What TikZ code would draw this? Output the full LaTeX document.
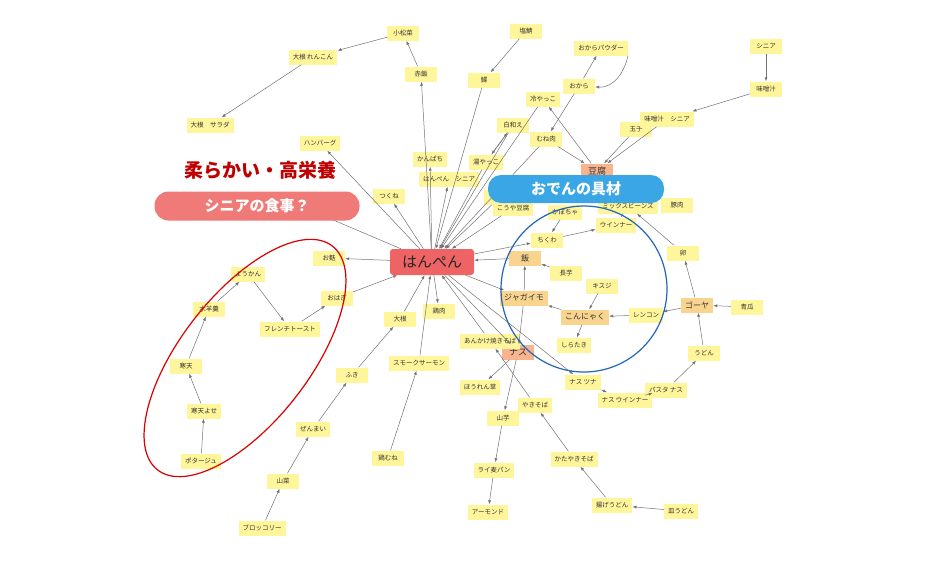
\documentclass[tikz,border=0pt]{standalone}
\usepackage{fontspec}
\setmainfont{Noto Sans CJK JP}
\usetikzlibrary{arrows.meta}
\definecolor{ny}{HTML}{FFF59A}
\definecolor{nor}{HTML}{F7B48E}
\definecolor{nlo}{HTML}{F9D48E}
\definecolor{nred}{HTML}{EE6464}
\definecolor{pill}{HTML}{F07A78}
\definecolor{blu}{HTML}{3AA6E6}
\definecolor{cblu}{HTML}{2166B8}
\tikzset{
 n/.style={fill=ny,font=\fontsize{6.5}{7}\selectfont,text=black!80,inner xsep=4pt,minimum height=15pt,minimum width=32pt},
 o/.style={n,fill=nor,font=\fontsize{9}{10}\selectfont},
 lo/.style={n,fill=nlo,font=\fontsize{8}{9}\selectfont},
 e/.style={draw=black!55,line width=0.5pt,-{Latex[length=4pt,width=3pt]}},
}
\begin{document}
\begin{tikzpicture}[x=1pt,y=-1pt]
\useasboundingbox (0,0) rectangle (928,560);
\fill[white] (0,0) rectangle (928,560);
% hidden nodes behind labels
\node[n] (hid1) at (500,197) {};
\node[n] (kouya) at (513,208) {こうや豆腐};
\node[n] (kabo) at (565,212) {かぼちゃ};
\node[n] (mix) at (628,206) {ミックスビーンズ};
\node[n] (buta) at (677,205) {豚肉};
\node[n] (hid2) at (305,208) {};
% nodes
\node[n] (komatsu) at (403,33) {小松菜};
\node[n] (dren) at (313,57) {大根 れんこん};
\node[n] (dsal) at (210,125) {大根　サラダ};
\node[n] (seki) at (421,74) {赤飯};
\node[n] (kare) at (484,80) {鰈};
\node[n] (shio) at (526,31) {塩鯖};
\node[n] (okp) at (601,48) {おからパウダー};
\node[n] (okara) at (579,86) {おから};
\node[n] (hiya) at (543,99) {冷やっこ};
\node[n] (shira) at (513,125) {白和え};
\node[n] (mune) at (546,139) {むね肉};
\node[n] (tama) at (636,129) {玉子};
\node[n] (mss) at (667,119) {味噌汁　シニア};
\node[n] (sen) at (766,46) {シニア};
\node[n] (miso) at (766,89) {味噌汁};
\node[o] (tofu) at (597,171) {豆腐};
\node[n] (hamb) at (320,143) {ハンバーグ};
\node[n] (kanp) at (430,159) {かんぱち};
\node[n] (yuya) at (486,162) {湯やっこ};
\node[n] (hsen) at (449,179) {はんぺん　シニア};
\node[n] (tsuku) at (389,196) {つくね};
\node[n] (chiku) at (547,240) {ちくわ};
\node[n] (wien) at (616,225) {ウインナー};
\node[lo] (meshi) at (525,258) {飯};
\node[n] (nagai) at (566,273) {長芋};
\node[n] (kisuji) at (602,286) {キスジ};
\node[lo] (jaga) at (524,298) {ジャガイモ};
\node[lo] (konn) at (585,317) {こんにゃく};
\node[n] (renk) at (646,315) {レンコン};
\node[lo] (goya) at (697,305) {ゴーヤ};
\node[n] (aouri) at (747,307) {青瓜};
\node[n] (tamago) at (683,253) {卵};
\node[n] (udon) at (704,353) {うどん};
\node[n] (shirat) at (574,345) {しらたき};
\node[o] (nasu) at (518,352) {ナス};
\node[n] (anka) at (490,341) {あんかけ焼きそば};
\node[n] (hour) at (480,387) {ほうれん草};
\node[n] (ntuna) at (583,382) {ナス ツナ};
\node[n] (nwien) at (625,400) {ナス ウインナー};
\node[n] (pasta) at (666,390) {パスタ ナス};
\node[n] (yama) at (503,418) {山芋};
\node[n] (yaki) at (535,405) {やきそば};
\node[n] (rai) at (494,470) {ライ麦パン};
\node[n] (almo) at (488,512) {アーモンド};
\node[n] (kata) at (574,459) {かたやきそば};
\node[n] (age) at (612,505) {揚げうどん};
\node[n] (sara) at (681,511) {皿うどん};
\node[n] (ofu) at (329,258) {お麩};
\node[n] (you) at (248,274) {ようかん};
\node[n] (mizu) at (209,309) {水羊羹};
\node[n] (ohagi) at (337,298) {おはぎ};
\node[n] (fren) at (290,329) {フレンチトースト};
\node[n] (kan) at (186,366) {寒天};
\node[n] (kany) at (204,411) {寒天よせ};
\node[n] (pota) at (201,461) {ポタージュ};
\node[n] (daikon) at (400,319) {大根};
\node[n] (tori) at (439,311) {鶏肉};
\node[n] (smoke) at (419,363) {スモークサーモン};
\node[n] (fuki) at (352,375) {ふき};
\node[n] (zen) at (313,429) {ぜんまい};
\node[n] (torim) at (388,458) {鶏むね};
\node[n] (sansai) at (283,481) {山菜};
\node[n] (broc) at (262,528) {ブロッコリー};
\node[fill=nred,rounded corners=3pt,font=\fontsize{15}{16}\selectfont,minimum width=84pt,minimum height=26pt,text=black!85] (hp) at (432,262) {はんぺん};
% edges
\draw[e] (hp) -- (seki);
\draw[e] (seki) -- (komatsu);
\draw[e] (komatsu) -- (dren);
\draw[e] (dren) -- (dsal);
\draw[e] (kare) -- (hp);
\draw[e] (shio) -- (kare);
\draw[e] (hp) -- (kanp);
\draw[e] (hp) -- (hsen);
\draw[e] (yuya) -- (hp);
\draw[e] (yuya) -- (shira);
\draw[e] (shira) -- (yuya);
\draw[e] (shira) -- (hp);
\draw[e] (hiya) -- (hp);
\draw[e] (mune) -- (hp);
\draw[e] (okara) -- (mune);
\draw[e] (okara) -- (okp);
\draw[e] (okp.south east) .. controls (625,70) and (615,88) .. (okara);
\draw[e] (mune) -- (tofu);
\draw[e] (tofu) -- (hiya);
\draw[e] (tama) -- (tofu);
\draw[e] (mss) -- (tofu);
\draw[e] (sen) -- (miso);
\draw[e] (miso) -- (mss);
\draw[e] (hp) -- (hamb);
\draw[e] (hp) -- (tsuku);
\draw[e] (hp) -- (hid2);
\draw[e] (hid1) -- (hp);
\draw[e] (kouya) -- (hp);
\draw[e] (hp) -- (ofu);
\draw[e] (ohagi) -- (hp);
\draw[e] (you) -- (fren);
\draw[e] (fren) -- (ohagi);
\draw[e] (mizu) -- (you);
\draw[e] (kan) -- (mizu);
\draw[e] (kany) -- (kan);
\draw[e] (pota) -- (kany);
\draw[e] (daikon) -- (hp);
\draw[e] (fuki) -- (daikon);
\draw[e] (zen) -- (fuki);
\draw[e] (sansai) -- (zen);
\draw[e] (broc) -- (sansai);
\draw[e] (hp) -- (tori);
\draw[e] (smoke) -- (hp);
\draw[e] (torim) -- (smoke);
\draw[e] (anka) -- (hp);
\draw[e] (yaki) -- (anka);
\draw[e] (kata) -- (yaki);
\draw[e] (age) -- (kata);
\draw[e] (sara) -- (age);
\draw[e] (hp) -- (nasu);
\draw[e] (nasu) -- (hour);
\draw[e] (nasu) -- (yama);
\draw[e] (yama) -- (rai);
\draw[e] (rai) -- (almo);
\draw[e] (hp) -- (ntuna);
\draw[e] (ntuna) -- (nwien);
\draw[e] (pasta) -- (nwien);
\draw[e] (pasta) -- (udon);
\draw[e] (udon) -- (goya);
\draw[e] (goya) -- (tamago);
\draw[e] (tamago) -- (mix);
\draw[e] (aouri) -- (goya);
\draw[e] (goya) -- (renk);
\draw[e] (renk) -- (konn);
\draw[e] (kisuji) -- (konn);
\draw[e] (konn) -- (jaga);
\draw[e] (konn) -- (shirat);
\draw[e] (jaga) -- (meshi);
\draw[e] (meshi) -- (hp);
\draw[e] (nagai) -- (meshi);
\draw[e] (hp) -- (jaga);
\draw[e] (jaga) -- (nasu);
\draw[e] (chiku) -- (wien);
\draw[e] (hp) -- (chiku);
\draw[e] (kabo) -- (chiku);
\draw[draw=black!55,line width=0.5pt] (wien) -- (mix);
% labels
\draw[red!85!black,line width=1.2pt,rotate around={52:(245,358)}] (245,358) ellipse (142 and 64);
\draw[cblu,line width=1.2pt] (584,289) circle (83);
\node[font=\bfseries\fontsize{19}{20}\selectfont,text=red!75!black] (t1) at (260,170) {柔らかい・高栄養};
\node[fill=pill,rounded corners=14pt,minimum width=205pt,minimum height=29pt,text=white,font=\bfseries\fontsize{15}{16}\selectfont] (t2) at (257,206) {シニアの食事？};
\node[fill=blu,rounded corners=13pt,minimum width=176pt,minimum height=28pt,text=white,font=\bfseries\fontsize{15}{16}\selectfont] (t3) at (576,189) {おでんの具材};
\end{tikzpicture}
\end{document}
